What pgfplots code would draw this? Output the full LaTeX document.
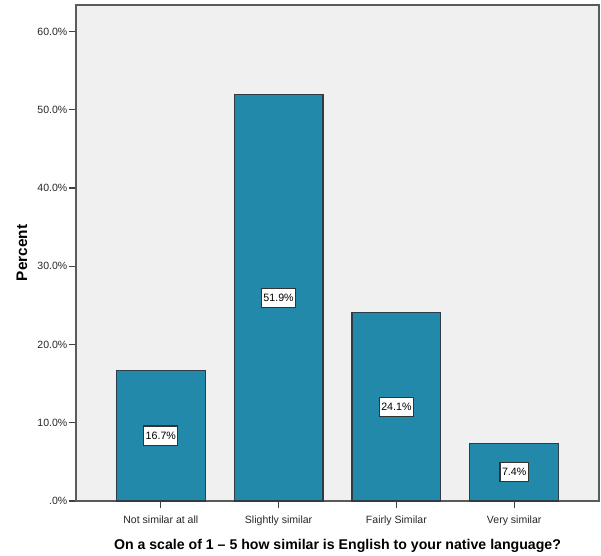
\documentclass[border=0pt]{standalone}
\usepackage{pgfplots}
\usepackage{pgfplotstable}
\pgfplotsset{compat=1.18}
\usepackage{fontspec}
\setmainfont{Liberation Sans}

\definecolor{barfill}{RGB}{35,137,170}
\definecolor{baredge}{RGB}{45,60,70}
\definecolor{plotbg}{RGB}{240,240,240}
\definecolor{framegray}{RGB}{90,90,90}

\pgfplotstableread{
x y
0 16.7
1 51.9
2 24.1
3 7.4
}\similarity

\begin{document}
\begin{tikzpicture}
\begin{axis}[
  scale only axis,
  width=392.25pt, height=372pt,
  xmin=-0.72, xmax=3.72,
  ymin=0, ymax=63.4,
  axis background/.style={fill=plotbg},
  axis line style={draw=framegray, line width=1.2pt},
  xtick={0,1,2,3},
  xticklabels={Not similar at all, Slightly similar, Fairly Similar, Very similar},
  ytick={0,10,20,30,40,50,60},
  yticklabels={.0\%,10.0\%,20.0\%,30.0\%,40.0\%,50.0\%,60.0\%},
  /pgf/number format/assume math mode=true,
  tick align=outside,
  major tick length=5.5pt,
  tick style={draw=black!75, line width=0.9pt},
  xtick pos=bottom, ytick pos=left,
  ticklabel style={font=\fontsize{7.9}{9}\selectfont, text=black!85},
  xticklabel style={yshift=-2pt},
  yticklabel style={xshift=2.5pt},
  ylabel={Percent},
  ylabel style={at={(axis description cs:-0.1033,0.5)}, anchor=center,
    font=\fontsize{11.5}{13}\selectfont\bfseries},
  xlabel={On a scale of 1 -- 5 how similar is English to your native language?},
  xlabel style={at={(axis description cs:0.5,-0.0988)}, anchor=base,
    font=\fontsize{10.6}{13}\selectfont\bfseries},
  clip=false,
]
\addplot[ybar, bar width=0.754, fill=barfill, draw=baredge, line width=0.8pt]
  table[x=x, y=y] {\similarity};
\addplot[draw=none, mark=none,
  nodes near coords={\pgfmathprintnumber[fixed,fixed zerofill,precision=1]{\pgfplotspointmeta}\%},
  point meta=explicit,
  every node near coord/.style={anchor=center, fill=white, draw=black!80,
    line width=0.8pt, inner xsep=1.5pt, inner ysep=3pt, minimum height=14.5pt,
    font=\fontsize{8}{9}\selectfont}]
  table[x=x, y expr=\thisrow{y}/2, meta=y] {\similarity};
\end{axis}
\pgfresetboundingbox
\path (-57pt,-41.25pt) rectangle (393.75pt,375.75pt);
\end{tikzpicture}
\end{document}
